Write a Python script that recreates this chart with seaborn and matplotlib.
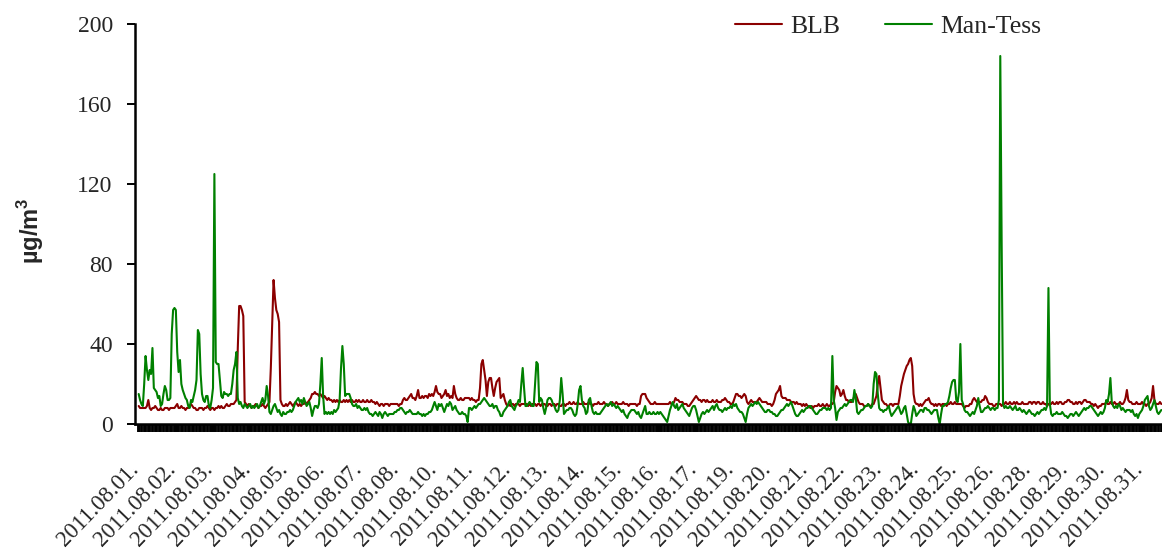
import numpy as np
import pandas as pd
import matplotlib
matplotlib.use("Agg")
import matplotlib.pyplot as plt
import matplotlib.transforms as mtransforms
import seaborn as sns

# ---------------- data (hourly, August 2011, 744 hours) ----------------
tick_labels = ["2011.08.01.", "2011.08.02.", "2011.08.03.", "2011.08.04.", "2011.08.05.",
               "2011.08.06.", "2011.08.07.", "2011.08.08.", "2011.08.10.", "2011.08.11.",
               "2011.08.12.", "2011.08.13.", "2011.08.14.", "2011.08.15.", "2011.08.16.",
               "2011.08.17.", "2011.08.19.", "2011.08.20.", "2011.08.21.", "2011.08.22.",
               "2011.08.23.", "2011.08.24.", "2011.08.25.", "2011.08.26.", "2011.08.28.",
               "2011.08.29.", "2011.08.30.", "2011.08.31."]
label_step = 27  # one label every 27 hourly categories

series_names = ["BLB", "Man-Tess"]

blb = [
    9,8,8,8,8,8,9,12,8,7,8,8,9,8,7,7,8,7,7,8,8,8,7,8,
    8,8,8,9,10,8,8,9,8,8,7,8,8,9,10,9,8,8,7,7,8,8,8,7,
    8,8,9,8,7,8,8,7,8,8,9,8,9,8,8,9,10,9,9,10,10,10,11,12,
    38,59,59,57,54,11,10,9,10,9,8,9,9,10,9,8,9,9,10,9,8,9,10,11,
    28,50,72,63,57,55,51,12,10,9,9,10,9,10,11,10,9,10,11,10,9,10,9,10,
    10,11,10,11,12,13,15,15,16,15,15,14,15,14,13,14,13,12,13,12,12,11,12,11,
    12,11,12,11,11,12,11,12,11,12,11,12,11,11,12,11,12,11,11,12,11,11,12,11,
    11,12,11,11,10,11,10,9,10,10,9,10,10,10,9,10,10,10,10,10,10,9,10,10,
    12,13,12,12,13,14,15,13,13,12,14,17,13,13,14,13,14,14,13,15,14,15,14,16,
    19,16,15,15,13,14,15,17,14,15,13,14,13,19,15,13,12,12,13,12,12,13,13,13,
    13,12,13,12,12,11,12,12,18,30,32,27,22,14,21,23,23,18,14,18,21,22,23,13,
    14,15,12,10,9,10,9,10,10,9,10,10,10,9,10,10,10,10,10,9,10,9,10,10,
    10,9,10,10,9,10,10,10,9,9,10,10,9,10,10,9,10,10,9,9,10,10,9,10,
    10,11,10,10,11,10,10,11,10,10,10,11,10,10,10,11,10,10,9,10,10,10,11,10,
    10,10,11,10,10,9,10,10,11,10,10,11,10,10,10,10,11,10,10,10,9,10,10,10,
    10,10,9,10,10,14,15,15,15,13,12,11,10,10,10,11,10,10,10,10,10,10,10,10,
    10,10,11,10,10,11,13,12,12,11,11,11,10,10,10,9,9,10,11,12,13,14,13,12,
    12,11,12,12,11,12,11,11,11,12,11,11,12,11,11,11,12,12,13,12,11,11,10,10,
    11,13,15,15,14,14,13,14,15,14,11,10,11,12,11,11,11,11,12,13,12,11,11,11,
    11,10,10,10,9,10,12,15,16,17,19,14,13,13,13,12,12,12,11,11,11,10,11,10,
    10,10,9,10,9,10,9,9,8,9,8,9,9,9,10,9,9,10,9,9,10,9,9,10,
    10,11,16,19,18,17,14,15,17,14,12,12,11,11,11,12,14,15,13,11,10,10,10,9,
    9,9,10,9,9,10,10,12,14,20,24,18,12,11,10,10,9,9,10,10,9,10,10,10,
    10,14,19,22,25,27,29,30,32,33,29,15,11,10,10,9,10,9,10,11,12,12,13,11,
    10,10,9,10,9,10,10,9,10,10,10,9,10,10,11,10,10,11,10,10,10,10,10,9,
    8,9,9,9,10,10,12,13,12,11,11,11,11,12,12,14,13,11,10,10,10,9,9,10,
    10,10,10,9,10,10,11,10,10,11,10,10,11,10,11,10,10,10,11,10,10,10,10,11,
    11,10,11,11,10,11,11,10,10,11,10,10,9,10,10,10,11,10,10,11,10,11,11,10,
    10,11,11,12,12,11,11,10,10,11,10,11,11,10,11,12,12,11,11,11,10,10,9,10,
    9,8,9,9,10,10,10,11,10,10,11,10,10,11,10,10,10,11,10,10,11,13,17,12,
    11,11,10,10,10,11,10,10,10,11,10,10,9,10,10,11,13,19,12,10,10,10,11,10,
]

man_tess = [
    15,12,10,9,20,34,27,22,27,25,38,18,17,16,13,14,9,10,15,19,17,12,12,13,
    45,57,58,57,36,26,32,20,17,15,13,12,9,8,12,11,14,17,22,47,45,25,15,12,
    11,14,14,9,8,12,18,125,31,30,30,22,14,13,16,15,15,14,15,15,20,27,30,36,
    13,10,11,9,8,10,9,8,9,10,8,9,8,9,10,8,9,11,13,10,12,19,14,6,
    5,7,9,10,8,6,7,5,4,6,5,5,6,6,7,6,7,9,11,12,13,11,12,10,
    13,11,9,10,11,8,4,7,9,9,8,10,20,33,14,5,6,5,6,5,6,5,7,6,
    7,8,12,28,39,30,14,15,15,15,13,10,9,9,10,8,9,8,7,7,8,7,8,6,
    5,5,4,5,6,5,4,6,5,3,5,6,5,4,5,5,5,5,6,6,7,7,8,8,
    7,6,5,6,6,7,6,5,5,5,5,6,5,5,4,5,4,5,5,6,6,7,9,11,
    9,7,10,9,10,8,6,8,10,9,11,10,7,8,9,7,6,5,5,6,5,5,4,1,
    8,8,7,8,9,8,9,10,10,11,12,13,12,11,10,9,9,10,8,9,9,7,6,4,
    4,6,7,8,9,11,12,9,8,7,9,10,12,11,20,28,18,9,9,10,11,10,9,9,
    20,31,30,11,13,12,8,5,8,12,13,13,12,10,9,7,6,7,12,23,15,5,6,7,
    7,8,8,7,5,4,5,10,17,19,12,9,8,5,6,12,13,9,6,5,6,5,5,5,
    6,7,8,9,10,9,10,11,9,10,9,8,9,8,7,6,7,5,4,3,5,6,7,7,
    7,6,5,6,4,3,5,7,9,5,5,6,5,5,6,5,5,6,5,6,5,4,3,2,
    1,4,7,9,11,9,8,10,7,8,9,10,8,7,6,5,4,6,8,9,9,7,4,1,
    3,5,6,5,6,7,6,7,8,9,7,9,10,8,7,7,6,7,8,7,8,8,9,8,
    10,9,10,8,7,6,6,5,3,1,5,8,9,10,9,10,11,10,11,10,9,8,7,6,
    6,7,7,6,6,5,5,4,4,5,6,7,7,8,9,10,9,10,11,9,7,5,4,4,
    5,6,7,6,7,8,8,9,9,8,7,6,5,5,6,7,7,8,8,8,7,8,7,8,
    34,12,8,2,6,7,8,8,9,10,9,10,11,12,12,11,17,13,6,5,6,7,7,8,
    9,9,10,9,8,9,20,26,25,15,8,7,7,6,7,7,8,9,6,4,5,6,7,8,
    9,7,5,6,8,9,5,1,0,0,5,9,7,4,5,6,7,7,6,8,8,7,7,6,
    5,6,7,7,7,3,0,5,9,9,10,10,11,14,18,21,22,22,12,11,16,40,12,10,
    7,6,6,5,4,5,6,5,7,9,13,9,6,6,7,8,8,9,8,7,8,8,7,8,
    8,12,184,90,10,8,9,8,8,9,8,7,8,9,7,7,8,7,6,7,6,5,6,7,
    6,5,5,4,5,6,5,6,7,7,8,7,9,68,10,5,4,5,5,6,5,5,5,6,
    5,4,4,3,4,5,5,4,5,6,5,4,5,6,7,8,7,8,8,9,9,8,7,6,
    5,4,5,6,5,6,8,12,11,15,23,11,9,8,9,8,10,9,7,8,7,6,7,7,
    7,6,7,5,4,5,3,5,6,7,9,12,13,14,9,7,8,10,12,9,6,5,6,7,
]

colors = {"BLB": "#8B0000", "Man-Tess": "#008000"}

# ---------------- figure ----------------
sns.set_style("white")
plt.rcParams["font.family"] = ["Liberation Serif", "DejaVu Serif"]
plt.rcParams["mathtext.fontset"] = "custom"
plt.rcParams["mathtext.rm"] = "Liberation Sans"
plt.rcParams["mathtext.bf"] = "Liberation Sans:bold"

n = len(blb)
df = pd.DataFrame({
    "hour": np.concatenate([np.arange(n), np.arange(len(man_tess))]),
    "value": blb + man_tess,
    "series": [series_names[0]] * n + [series_names[1]] * len(man_tess),
})

W, H = 1162, 551
fig = plt.figure(figsize=(W / 100, H / 100), dpi=100)
ax = fig.add_axes([135 / W, 1 - 424 / H, 1027 / W, 400 / H])

sns.lineplot(data=df, x="hour", y="value", hue="series", palette=colors,
             hue_order=series_names, linewidth=1.5, ax=ax, legend=True)

ax.set_xlim(-2.68, n - 0.5)
ax.set_ylim(0, 200)
ax.set_yticks(np.arange(0, 201, 40))
ax.set_yticklabels([str(v) for v in range(0, 201, 40)], fontsize=17)

major_pos = np.arange(0, n, label_step)[:len(tick_labels)]
ax.set_xticks(major_pos)
ax.set_xticklabels(tick_labels, fontsize=16.5, rotation=46, ha="right",
                   va="center", rotation_mode="anchor")
ax.set_xticks(np.arange(-0.5, n, 1), minor=True)
ax.tick_params(axis="x", which="both", bottom=True, direction="out", length=6,
               width=1.35, color="black", pad=24)
ax.tick_params(axis="y", left=True, direction="out", length=6, width=1.4,
               color="black", pad=10)
ax.set_xlabel("")
ax.set_ylabel("")

offset = mtransforms.ScaledTranslation(-3 / 100, 0, fig.dpi_scale_trans)
for lab in ax.get_xticklabels():
    lab.set_transform(lab.get_transform() + offset)

for s in ["top", "right"]:
    ax.spines[s].set_visible(False)
for s in ["left", "bottom"]:
    ax.spines[s].set_color("black")
    ax.spines[s].set_linewidth(1.8)

fig.text(31 / W, 1 - 231 / H, r"µg/m$^{\mathbf{3}}$", rotation=90, ha="center",
         va="center", fontsize=17, fontweight="bold",
         family=["Liberation Sans", "DejaVu Sans"])

leg = ax.legend(loc="center right", bbox_to_anchor=(1041 / W, 1 - 27 / H),
                bbox_transform=fig.transFigure, ncol=2, frameon=False,
                fontsize=18.5, handlelength=1.85, handletextpad=0.3,
                columnspacing=1.75, borderpad=0, borderaxespad=0)
for line in leg.get_lines():
    line.set_linewidth(1.5)

fig.savefig("out.png", dpi=100)
